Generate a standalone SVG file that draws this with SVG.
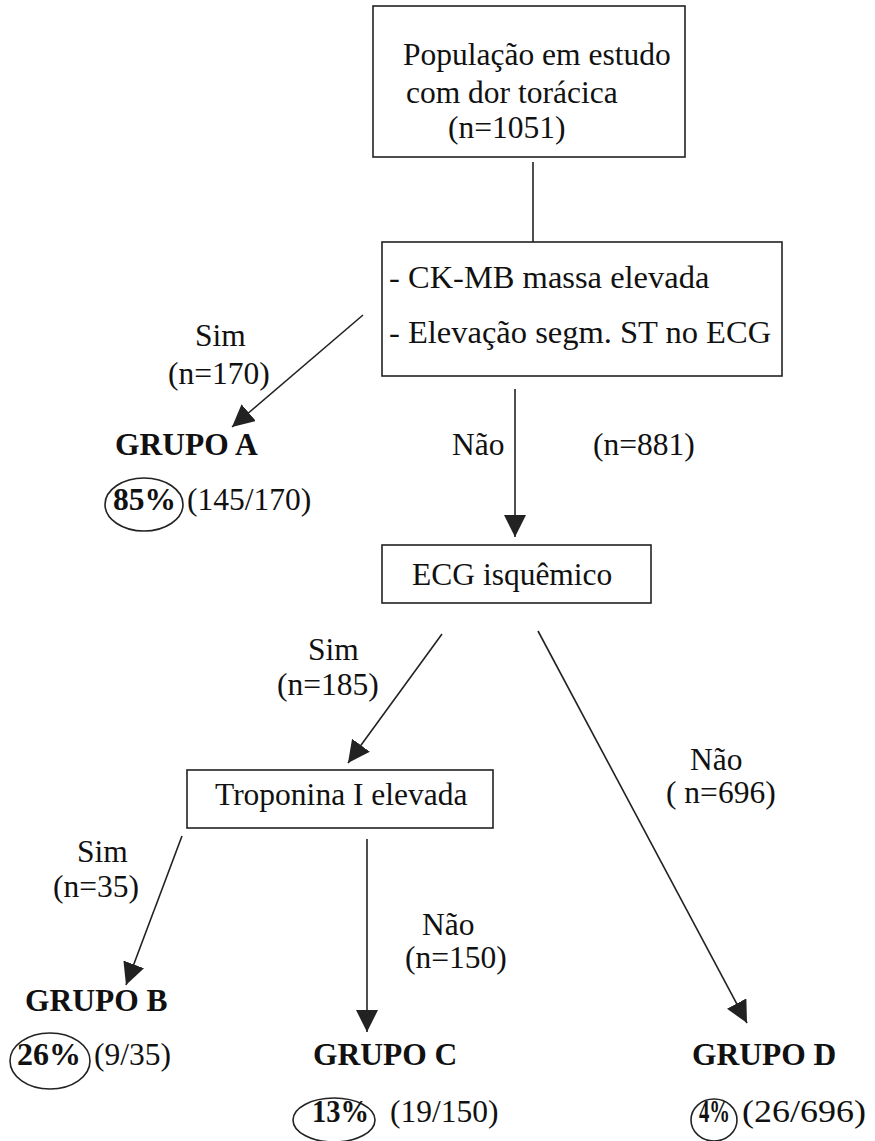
<svg xmlns="http://www.w3.org/2000/svg" width="875" height="1141" viewBox="0 0 875 1141">
<style>
text{font-family:"Liberation Serif","Times New Roman",serif;font-size:31.5px;fill:#111}
.b{font-weight:bold}
.big{font-size:32.5px}
.box{fill:#fff;stroke:#222;stroke-width:1.6}
.ln{stroke:#222;stroke-width:1.6;fill:none}
.ell{fill:none;stroke:#222;stroke-width:1.6}
</style>
<defs>
<marker id="ah" viewBox="0 0 22 22" refX="22" refY="11" markerWidth="22" markerHeight="22" markerUnits="userSpaceOnUse" orient="auto">
<path d="M0,0 L22,11 L0,22 z" fill="#222"/>
</marker>
</defs>
<rect width="875" height="1141" fill="#fff"/>
<g id="connectors">
<line class="ln" x1="533" y1="162" x2="533" y2="242"/>
<line class="ln" x1="363" y1="315" x2="232" y2="427" marker-end="url(#ah)"/>
<line class="ln" x1="515" y1="389" x2="515" y2="537" marker-end="url(#ah)"/>
<line class="ln" x1="442" y1="634" x2="348" y2="763" marker-end="url(#ah)"/>
<line class="ln" x1="538" y1="631" x2="747" y2="1023" marker-end="url(#ah)"/>
<line class="ln" x1="182" y1="836" x2="126" y2="985" marker-end="url(#ah)"/>
<line class="ln" x1="367" y1="839" x2="367" y2="1032" marker-end="url(#ah)"/>
</g>
<g id="populacao">
<rect class="box" x="373" y="6" width="312" height="151"/>
<text x="403" y="65">População em estudo</text>
<text x="406" y="103">com dor torácica</text>
<text x="448" y="138">(n=1051)</text>
</g>
<g id="ckmb">
<rect class="box" x="382" y="242" width="400" height="134"/>
<text class="big" x="389" y="288">- CK-MB massa elevada</text>
<text class="big" x="389" y="343">- Elevação segm. ST no ECG</text>
</g>
<g id="ecg">
<rect class="box" x="382" y="545" width="269" height="58"/>
<text x="412" y="585">ECG isquêmico</text>
</g>
<g id="troponina">
<rect class="box" x="187" y="770" width="306" height="58"/>
<text x="215" y="805">Troponina I elevada</text>
</g>
<g id="labels">
<text x="195" y="346">Sim</text>
<text x="168" y="384">(n=170)</text>
<text x="452" y="455">Não</text>
<text x="593" y="455">(n=881)</text>
<text x="308" y="660">Sim</text>
<text x="277" y="695">(n=185)</text>
<text x="690" y="770">Não</text>
<text x="666" y="803">( n=696)</text>
<text x="77" y="862">Sim</text>
<text x="53" y="897">(n=35)</text>
<text x="422" y="935">Não</text>
<text x="405" y="968">(n=150)</text>
</g>
<g id="grupoA">
<text class="b" x="115" y="455">GRUPO A</text>
<ellipse class="ell" cx="144" cy="504.5" rx="39" ry="26.5"/>
<text class="b" x="113" y="510">85%</text>
<text x="187" y="510">(145/170)</text>
</g>
<g id="grupoB">
<text class="b" x="25" y="1011">GRUPO B</text>
<ellipse class="ell" cx="50" cy="1061" rx="40" ry="28"/>
<text class="b" x="17" y="1065" textLength="64" lengthAdjust="spacingAndGlyphs">26%</text>
<text x="94" y="1065">(9/35)</text>
</g>
<g id="grupoC">
<text class="b" x="313" y="1065">GRUPO C</text>
<ellipse class="ell" cx="334" cy="1120" rx="41" ry="22"/>
<text class="b" x="312" y="1122" textLength="57" lengthAdjust="spacingAndGlyphs">13%</text>
<text x="390" y="1122">(19/150)</text>
</g>
<g id="grupoD">
<text class="b" x="692" y="1065">GRUPO D</text>
<ellipse class="ell" cx="714" cy="1120" rx="23" ry="21"/>
<text class="b" x="699" y="1122" textLength="31" lengthAdjust="spacingAndGlyphs">4%</text>
<text x="742" y="1122" textLength="124" lengthAdjust="spacingAndGlyphs">(26/696)</text>
</g>
</svg>
